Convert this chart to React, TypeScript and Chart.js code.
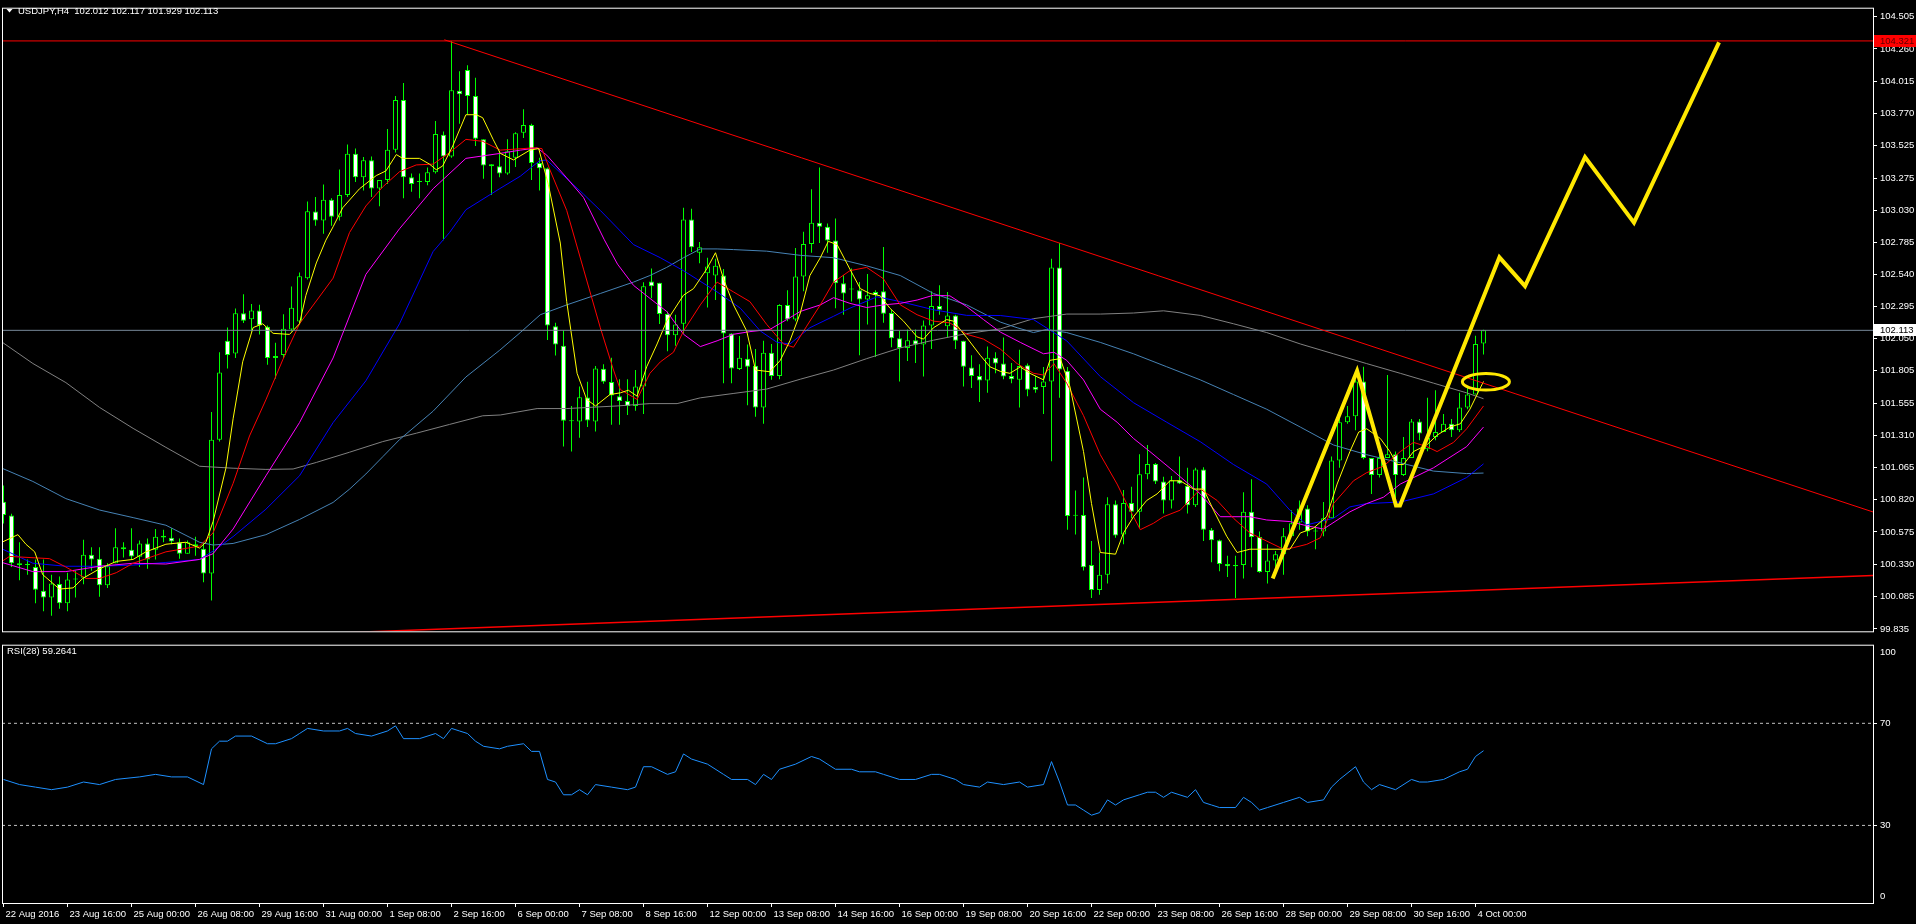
import React, { useEffect, useRef } from 'react';
import { Chart, registerables } from 'chart.js';

Chart.register(...registerables);

const FONT = "'Liberation Sans', Arial, sans-serif";
const FSIZE = 9.5;

// ---------- candle data (H4 bars, index 0 = first visible bar) ----------
const opens = [100.806,100.70,100.336,100.322,100.307,100.127,100.075,100.177,100.031,100.211,100.226,100.40,100.371,100.168,100.336,100.458,100.438,100.385,100.487,100.438,100.545,100.53,100.496,100.409,100.481,100.446,100.258,101.279,102.033,101.937,102.244,102.198,102.265,102.14,101.902,101.925,102.12,102.18,102.511,103.02,102.95,103.11,102.98,103.145,103.46,103.28,103.41,103.195,103.26,103.49,103.87,103.28,103.245,103.245,103.32,103.605,103.44,103.94,104.10,103.90,103.57,103.38,103.365,103.31,103.43,103.62,103.68,103.39,103.35,102.145,101.996,101.42,101.417,101.60,101.417,101.82,101.718,101.61,101.574,101.536,101.685,102.486,102.476,102.237,102.076,102.163,102.958,102.705,102.548,102.531,102.531,102.088,101.817,101.897,101.842,101.524,101.941,101.765,102.307,102.195,102.523,102.772,102.933,102.903,102.799,102.473,102.424,102.419,102.349,102.406,102.411,102.245,102.053,101.979,102.038,102.004,102.15,102.299,102.145,102.227,102.033,101.83,101.765,101.73,101.904,101.859,101.765,101.735,101.847,101.68,101.68,101.723,102.593,101.805,100.698,100.704,100.323,100.132,100.249,100.786,100.555,100.796,100.728,101.014,101.094,100.96,100.815,100.97,100.927,100.778,101.052,100.592,100.512,100.331,100.313,100.323,100.728,100.537,100.269,100.356,100.405,100.542,100.646,100.753,100.579,100.579,100.679,101.119,101.412,101.457,101.723,101.139,101.01,101.139,101.168,101.01,101.139,101.417,101.206,101.30,101.337,101.40,101.35,101.524,101.623,102.012];
const highs = [100.93,100.713,100.496,100.365,100.365,100.365,100.249,100.235,100.264,100.278,100.516,100.458,100.458,100.336,100.603,100.496,100.603,100.51,100.525,100.597,100.591,100.603,100.525,100.51,100.539,100.496,101.49,101.946,102.134,102.279,102.389,102.314,102.308,102.149,102.018,102.236,102.447,102.555,103.095,103.13,103.225,103.12,103.34,103.53,103.50,103.435,103.44,103.26,103.65,103.90,104.00,103.31,103.31,103.355,103.71,103.63,104.321,104.09,104.135,104.04,103.57,103.38,103.48,103.57,103.625,103.80,103.69,103.43,103.355,102.17,102.113,101.536,101.685,101.72,101.84,101.855,101.904,101.74,101.74,101.81,102.48,102.585,102.476,102.257,102.232,103.048,103.04,102.787,102.667,102.66,102.58,102.09,102.07,102.004,101.971,102.033,102.009,102.312,102.419,102.742,102.866,103.19,103.356,102.928,102.966,102.536,102.585,102.481,102.543,102.419,102.749,102.27,102.108,102.12,102.12,102.188,102.411,102.456,102.406,102.232,102.033,101.922,101.854,101.989,101.946,102.058,101.864,101.964,101.859,101.765,101.834,102.66,102.779,101.834,100.89,100.99,100.505,100.418,100.84,100.815,100.895,100.92,101.168,101.238,101.10,100.995,101.002,101.151,101.064,101.064,101.069,100.604,100.517,100.393,100.393,100.878,100.977,100.579,100.48,100.43,100.604,100.741,100.815,100.778,100.617,100.803,101.151,101.45,101.536,101.735,101.835,101.139,101.201,101.772,101.188,101.30,101.437,101.437,101.598,101.656,101.474,101.437,101.636,101.673,102.071,102.117];
const lows = [100.64,100.307,100.206,100.249,100.031,99.97,99.936,99.988,99.97,100.075,100.176,100.278,100.081,100.148,100.336,100.38,100.365,100.307,100.293,100.365,100.496,100.481,100.371,100.409,100.394,100.191,100.052,101.264,101.821,101.902,102.169,102.105,102.082,101.85,101.743,101.902,102.105,102.169,102.50,102.91,102.85,102.91,102.95,103.13,103.245,103.18,103.13,103.06,103.23,103.47,103.12,103.17,103.12,103.22,103.31,102.80,103.43,103.69,103.76,103.52,103.27,103.145,103.28,103.30,103.36,103.58,103.26,103.18,102.04,101.92,101.226,101.188,101.293,101.375,101.342,101.705,101.392,101.392,101.467,101.50,101.474,102.357,102.162,101.954,101.996,102.088,102.71,102.625,102.287,102.344,101.71,101.71,101.81,101.541,101.454,101.40,101.735,101.74,102.183,102.183,102.411,102.705,102.779,102.705,102.282,102.232,102.332,101.922,102.158,101.909,102.17,101.984,101.723,101.879,101.864,101.76,101.971,102.232,102.058,101.971,101.685,101.673,101.566,101.636,101.785,101.74,101.71,101.524,101.61,101.636,101.474,101.114,101.598,100.592,100.555,100.281,100.07,100.095,100.182,100.53,100.48,100.679,100.604,100.977,100.94,100.716,100.753,100.94,100.716,100.766,100.505,100.343,100.274,100.231,100.07,100.219,100.306,100.264,100.182,100.256,100.249,100.542,100.592,100.542,100.443,100.542,100.679,101.064,101.40,101.35,101.13,100.865,100.99,101.139,100.778,101.002,101.139,101.275,101.19,101.275,101.337,101.30,101.337,101.511,101.623,101.929];
const closes = [100.704,100.336,100.322,100.325,100.133,100.075,100.182,100.031,100.211,100.22,100.40,100.365,100.168,100.313,100.458,100.443,100.388,100.487,100.365,100.539,100.533,100.501,100.409,100.496,100.467,100.258,101.279,101.792,101.925,102.244,102.186,102.265,102.149,101.902,101.917,102.125,102.285,102.526,103.021,102.95,103.11,102.98,103.145,103.46,103.28,103.41,103.195,103.26,103.49,103.87,103.28,103.23,103.245,103.32,103.61,103.44,103.945,103.915,103.90,103.575,103.37,103.365,103.31,103.48,103.617,103.68,103.39,103.35,102.15,102.004,101.424,101.42,101.603,101.425,101.822,101.72,101.616,101.574,101.536,101.685,102.449,102.449,102.237,102.076,102.158,102.958,102.747,102.747,102.60,102.605,102.088,101.822,101.904,101.835,101.524,101.941,101.765,102.307,102.195,102.523,102.772,102.933,102.903,102.799,102.473,102.394,102.424,102.349,102.381,102.381,102.24,102.053,101.979,102.038,102.004,102.15,102.299,102.27,102.227,102.033,101.835,101.765,101.73,101.904,101.86,101.76,101.74,101.84,101.66,101.66,101.723,102.593,101.815,100.696,100.698,100.306,100.132,100.249,100.786,100.547,100.796,100.728,101.014,101.094,100.96,100.815,100.97,100.945,100.778,101.052,100.592,100.512,100.331,100.313,100.323,100.728,100.537,100.269,100.356,100.405,100.542,100.641,100.753,100.579,100.585,100.679,101.119,101.412,101.457,101.723,101.139,101.01,101.139,101.168,101.01,101.139,101.417,101.325,101.293,101.337,101.40,101.35,101.524,101.623,102.009,102.113];

// ---------- moving averages, read as [bar, price] ----------
const maYellow = [[-0.2,100.496],[1.8,100.554],[2.8,100.481],[3.9,100.423],[4.9,100.249],[7,100.139],[8.7,100.148],[9.9,100.22],[12,100.293],[14.1,100.35],[16.2,100.365],[17.8,100.423],[20.3,100.481],[22.8,100.496],[24.5,100.452],[25.3,100.496],[26.2,100.655],[27.8,101.061],[28.7,101.438],[29.9,101.873],[31.2,102.134],[32.4,102.163],[33.7,102.09],[35.75,102.082],[37,102.163],[37.8,102.38],[39.1,102.627],[40.3,102.801],[41.2,102.903],[42.4,103.048],[44.5,103.193],[46.6,103.294],[47.8,103.329],[49.1,103.454],[49.9,103.425],[52,103.425],[53.25,103.381],[54.1,103.338],[54.9,103.367],[56.2,103.526],[57.8,103.758],[59.1,103.758],[59.9,103.735],[61.2,103.57],[62.1,103.463],[63.75,103.413],[65.8,103.488],[66.9,103.5],[68.1,103.227],[69.6,102.779],[70.4,102.332],[71.7,101.785],[72.9,101.586],[74,101.536],[75.8,101.623],[77.1,101.636],[78.1,101.656],[79.2,101.611],[80.4,101.835],[81.7,102.009],[82.9,102.183],[85,102.381],[86.25,102.431],[87.9,102.58],[89,102.705],[90,102.506],[91.25,102.307],[92.9,102.108],[94,101.81],[95.8,101.797],[97.1,101.884],[98.3,102.033],[99.6,102.245],[100.8,102.531],[102.1,102.667],[103.1,102.792],[104.2,102.767],[105.8,102.58],[107.1,102.431],[108.3,102.394],[109.6,102.376],[110.8,102.282],[112.5,102.183],[114.2,102.063],[115,102.046],[116.25,102.133],[117.9,102.195],[118.75,102.183],[120.4,102.058],[122.1,101.922],[123.3,101.835],[124.6,101.8],[125.8,101.785],[127.1,101.834],[128.3,101.785],[130,101.735],[130.8,101.884],[132.1,101.897],[133.3,101.685],[135,101.188],[136,100.791],[137.1,100.418],[139,100.405],[140,100.567],[141.25,100.691],[142.9,100.815],[144.2,100.865],[145.8,100.965],[147.1,100.965],[148.75,100.902],[150,100.902],[151.25,100.741],[152.9,100.542],[154.2,100.418],[155.8,100.443],[160.8,100.443],[162.1,100.567],[163.75,100.604],[165.4,100.691],[166.7,100.94],[168.3,101.188],[169.4,101.337],[170.4,101.362],[172.1,101.288],[173.3,101.188],[174.2,101.089],[175,101.089],[176.25,101.188],[177.9,101.238],[179.2,101.313],[180.8,101.375],[182.1,101.4],[183.3,101.511],[185,101.723]];
const maRed = [[-0.2,100.35],[0.75,100.388],[5.75,100.371],[7.8,100.307],[10.3,100.22],[12,100.22],[14.1,100.264],[16.2,100.336],[20.3,100.423],[24.5,100.467],[26.2,100.568],[28.7,100.945],[30.75,101.307],[32.8,101.583],[34.9,101.887],[37,102.163],[39.1,102.337],[41.2,102.511],[43.25,102.859],[45.3,103.062],[47.4,103.207],[49.5,103.323],[51.6,103.375],[53.7,103.381],[55.75,103.468],[57.8,103.57],[59.9,103.555],[62.1,103.488],[66.25,103.505],[67.3,103.5],[68.3,103.338],[70.4,103.028],[72.5,102.58],[74.6,102.133],[76.25,101.81],[77.1,101.661],[79.2,101.586],[80.8,101.785],[82.1,101.872],[83.75,101.946],[85,102.108],[87.1,102.307],[89.2,102.481],[91.25,102.406],[93.3,102.332],[95.4,102.158],[97.5,102.009],[98.75,101.984],[100.4,102.145],[102.1,102.307],[103.75,102.481],[105.8,102.568],[107.9,102.593],[110,102.506],[112.1,102.307],[114.2,102.232],[116.25,102.183],[118.3,102.17],[120.4,102.083],[122.5,102.046],[124.6,101.97],[126.7,101.859],[128.75,101.785],[130,101.772],[131.3,101.859],[132.9,101.71],[135,101.462],[137.1,101.164],[139.2,100.94],[140.4,100.791],[142.1,100.592],[143.75,100.641],[145,100.691],[147.1,100.741],[149.6,100.902],[151.7,100.815],[153.75,100.679],[155.8,100.567],[157.9,100.505],[160,100.443],[161.25,100.455],[162.9,100.48],[164.6,100.53],[166.25,100.791],[168.75,100.965],[170.4,101.027],[172.5,101.077],[174.6,101.188],[176.25,101.258],[177.9,101.226],[179.2,101.188],[181.25,101.258],[182.9,101.362],[185,101.536]];
const maMagenta = [[-0.2,100.342],[3.67,100.272],[7.8,100.272],[12,100.313],[16.2,100.336],[20.3,100.33],[24.5,100.365],[26.2,100.409],[28.7,100.597],[32.8,101.003],[37,101.409],[41.2,101.902],[45.3,102.54],[49.5,102.888],[53.7,103.193],[57.8,103.425],[62.1,103.463],[64.6,103.488],[66.7,103.505],[67.9,103.45],[70.4,103.276],[72.5,103.127],[75.1,102.804],[76.75,102.618],[78.75,102.456],[80.8,102.357],[82.9,102.257],[85,102.083],[87.1,101.989],[89.2,102.033],[91.25,102.083],[93.3,102.103],[95.8,102.12],[97.9,102.195],[99.6,102.257],[102.1,102.307],[103.75,102.362],[105.8,102.319],[107.9,102.287],[110,102.307],[112.1,102.319],[114.2,102.344],[116.25,102.381],[118.3,102.376],[120.4,102.294],[122.5,102.195],[124.6,102.1],[127.1,102.021],[130,101.934],[131.3,101.946],[132.9,101.884],[135,101.735],[137.1,101.511],[139.2,101.412],[141.25,101.288],[143.3,101.188],[146.25,101.039],[149.6,100.865],[152.1,100.691],[155.8,100.691],[157.9,100.666],[160.8,100.654],[162.9,100.622],[165,100.597],[168.3,100.728],[170.4,100.791],[172.5,100.84],[174.6,100.94],[178.75,101.064],[182.9,101.226],[185,101.375]];
const maBlue = [[-0.2,100.446],[3.67,100.336],[7.8,100.313],[12,100.313],[16.2,100.322],[20.3,100.342],[24.5,100.365],[26.2,100.429],[28.7,100.539],[32.8,100.748],[37,101.003],[41.2,101.409],[45.3,101.728],[49.5,102.163],[53.7,102.714],[55.75,102.859],[57.8,103.033],[62,103.193],[64.6,103.289],[67,103.406],[67.9,103.413],[72.5,103.152],[74.6,103.028],[78.75,102.767],[82.1,102.667],[85,102.568],[89.2,102.406],[92.1,102.282],[94.6,102.108],[96.7,102.021],[98.3,102.009],[100.8,102.133],[103.75,102.22],[105.8,102.282],[109.2,102.369],[112.1,102.332],[116.25,102.27],[120.4,102.227],[124.6,102.226],[128.75,102.195],[132.9,102.033],[137.1,101.76],[141.25,101.561],[145.4,101.412],[149.6,101.263],[153.75,101.089],[157.9,100.94],[160.8,100.741],[162.9,100.629],[166.25,100.679],[168.3,100.766],[170.4,100.791],[174.6,100.803],[178.75,100.865],[182.9,100.99],[185,101.094]];
const maSteel = [[-0.2,101.061],[3.67,100.96],[7.8,100.829],[12,100.742],[16.2,100.684],[20.3,100.626],[24.5,100.496],[26.2,100.475],[28.7,100.487],[32.8,100.554],[37,100.67],[41.2,100.8],[43.25,100.901],[45.3,101.017],[47.4,101.148],[49.5,101.279],[53.7,101.496],[57.8,101.757],[62,101.96],[64.6,102.096],[67.1,102.232],[70.4,102.307],[74.6,102.394],[78.75,102.481],[80.8,102.531],[82.9,102.593],[85,102.667],[87.1,102.734],[89.2,102.734],[91.25,102.729],[95.4,102.717],[99.6,102.685],[103.75,102.667],[107.9,102.605],[112.1,102.531],[116.25,102.394],[120.4,102.307],[124.6,102.176],[126.7,102.133],[128.75,102.096],[130.4,102.12],[132.9,102.096],[137.1,102.021],[141.25,101.934],[145.4,101.835],[149.6,101.735],[153.75,101.623],[157.9,101.511],[162.1,101.375],[166.25,101.238],[170.4,101.164],[174.6,101.102],[178.75,101.039],[182.9,101.02],[185,101.024]];
const maGray = [[-0.2,102.024],[3.67,101.86],[7.8,101.714],[12,101.525],[16.2,101.365],[20.3,101.22],[24.5,101.076],[28.7,101.061],[32.8,101.052],[36.2,101.055],[39.1,101.105],[43.25,101.183],[47.4,101.264],[51.6,101.328],[55.75,101.395],[59.9,101.461],[62.1,101.467],[66.7,101.516],[70.4,101.516],[76.7,101.536],[80.8,101.554],[84.2,101.554],[87.1,101.598],[91.2,101.631],[95.4,101.665],[99.6,101.74],[103.75,101.81],[107.9,101.897],[112.1,101.979],[116.25,102.038],[120.4,102.088],[124.6,102.124],[128.75,102.202],[132.9,102.237],[137.1,102.237],[141.25,102.245],[145,102.262],[149.6,102.227],[153.75,102.163],[157.9,102.096],[162.1,102.009],[166.25,101.934],[170.4,101.859],[174.6,101.785],[178.75,101.71],[182.9,101.636],[185,101.591]];

// ---------- RSI(28), read as [bar, value] ----------
const rsiLine = [[0,48],[2,46],[4,45],[6,44],[8,45],[10,47],[12,46],[14,48],[17,49],[19,50],[21,49],[23,49],[25,46],[26,60],[27,63],[28,63],[29,65],[31,65],[33,62],[34,62],[36,64],[37,66],[38,68],[40,67],[42,67],[43,68],[44,66],[46,65],[48,67],[49,69],[50,64],[52,64],[54,66],[55,64],[56,68],[57,67],[58,66],[59,63],[60,61],[62,60],[63,61],[65,62],[66,59],[67,59],[68,48],[69,47],[70,42],[71,42],[72,44],[73,42],[74,46],[76,45],[78,44],[79,45],[80,53],[81,53],[83,50],[84,51],[85,58],[86,56],[88,54],[90,50],[91,48],[93,48],[94,46],[95,50],[96,48],[97,52],[99,54],[101,57],[102,56],[104,52],[106,52],[107,51],[109,51],[110,50],[112,48],[114,48],[116,50],[117,50],[119,48],[120,46],[122,45],[123,47],[125,46],[127,47],[128,45],[130,46],[131,55],[132,47],[133,38],[134,38],[135,36],[136,34],[137,35],[138,40],[139,38],[140,40],[142,42],[143,43],[144,43],[145,41],[146,43],[148,41],[149,44],[150,39],[151,38],[152,37],[154,37],[155,41],[156,39],[157,36],[158,37],[160,39],[162,41],[163,39],[165,40],[166,45],[167,48],[169,53],[170,47],[171,44],[172,46],[174,44],[176,48],[177,47],[178,47],[180,48],[182,51],[183,52],[184,57],[185,59.26]];

// ---------- drawn objects ----------
const highLevel = 104.321;
const bidLevel = 102.113;
const upperTrend = [[55.1,104.33],[233.7,100.727]];
const lowerTrend = [[40,99.80],[233.7,100.243]];
const projection = [[158.65,100.219],[169.2,101.803],[174.06,100.776],[174.56,100.776],[186.99,102.67],[190.19,102.451],[197.69,103.435],[203.81,102.934],[214.44,104.31]];
const ellipseCenter = [185.3, 101.72];
const ellipseRadius = [2.94, 0.063];

// ---------- axes ----------
const priceTicks = [104.505,104.260,104.015,103.770,103.525,103.275,103.030,102.785,102.540,102.295,102.050,101.805,101.555,101.310,101.065,100.820,100.575,100.330,100.085,99.835];
const rsiTickPos = [97.8, 70, 30, 2.0];
const rsiTickLabels = ['100', '70', '30', '0'];
const timeLabelBars = [0,8,16,24,32,40,48,56,64,72,80,88,96,104,112,120,128,136,144,152,160,168,176,184];
const timeLabels = ['22 Aug 2016','23 Aug 16:00','25 Aug 00:00','26 Aug 08:00','29 Aug 16:00','31 Aug 00:00','1 Sep 08:00','2 Sep 16:00','6 Sep 00:00','7 Sep 08:00','8 Sep 16:00','12 Sep 00:00','13 Sep 08:00','14 Sep 16:00','16 Sep 00:00','19 Sep 08:00','20 Sep 16:00','22 Sep 00:00','23 Sep 08:00','26 Sep 16:00','28 Sep 00:00','29 Sep 08:00','30 Sep 16:00','4 Oct 00:00'];

const X_MIN = -0.1875;
const X_MAX = X_MIN + 1871 / 8;
const P_MIN = 99.8167;
const P_MAX = 104.5669;

const pts = (arr: number[][]) => arr.map(([x, y]) => ({ x, y }));
const lineDs = (arr: number[][], color: string, width = 1, order = 5, extra: any = {}) => ({
  type: 'line',
  data: pts(arr),
  borderColor: color,
  borderWidth: width,
  pointRadius: 0,
  tension: 0,
  fill: false,
  order,
  ...extra,
});

export default function App() {
  const mainRef = useRef<HTMLCanvasElement>(null);
  const rsiRef = useRef<HTMLCanvasElement>(null);

  useEffect(() => {
    document.body.style.margin = '0';
    document.body.style.background = '#000';
    document.body.style.overflow = 'hidden';

    const mainDecor = {
      id: 'mainDecor',
      afterDatasetsDraw(chart: any) {
        const { ctx, chartArea: a, scales } = chart;
        const xs = scales.x, ys = scales.y;
        ctx.save();
        ctx.beginPath();
        ctx.rect(a.left, a.top, a.right - a.left, a.bottom - a.top);
        ctx.clip();
        const cx = xs.getPixelForValue(ellipseCenter[0]);
        const cy = ys.getPixelForValue(ellipseCenter[1]);
        const rx = Math.abs(xs.getPixelForValue(ellipseCenter[0] + ellipseRadius[0]) - cx);
        const ry = Math.abs(ys.getPixelForValue(ellipseCenter[1] + ellipseRadius[1]) - cy);
        ctx.strokeStyle = '#ffe800';
        ctx.lineWidth = 3;
        ctx.beginPath();
        ctx.ellipse(cx, cy, rx, ry, 0, 0, Math.PI * 2);
        ctx.stroke();
        ctx.restore();
      },
      afterDraw(chart: any) {
        const { ctx, chartArea: a, scales } = chart;
        const ys = scales.y;
        ctx.save();
        ctx.strokeStyle = '#ffffff';
        ctx.lineWidth = 1;
        ctx.strokeRect(a.left + 0.5, a.top - 0.5, a.right - a.left, a.bottom - a.top + 1);
        ctx.font = `${FSIZE}px ${FONT}`;
        ctx.textBaseline = 'middle';
        ctx.textAlign = 'left';
        const yr = ys.getPixelForValue(highLevel);
        ctx.fillStyle = '#ff0000';
        ctx.fillRect(a.right + 1, Math.round(yr) - 6, 42, 12);
        ctx.fillStyle = '#5a0000';
        ctx.fillText(highLevel.toFixed(3), a.right + 7, yr + 0.5);
        const yb = ys.getPixelForValue(bidLevel);
        ctx.fillStyle = '#ffffff';
        ctx.fillRect(a.right + 1, Math.round(yb) - 6, 42, 12);
        ctx.fillStyle = '#000000';
        ctx.fillText(bidLevel.toFixed(3), a.right + 7, yb + 0.5);
        ctx.fillStyle = '#ffffff';
        ctx.beginPath();
        ctx.moveTo(6.5, 9);
        ctx.lineTo(12.5, 9);
        ctx.lineTo(9.5, 12.5);
        ctx.closePath();
        ctx.fill();
        ctx.textBaseline = 'alphabetic';
        ctx.fillText('USDJPY,H4  102.012 102.117 101.929 102.113', 18, 14);
        ctx.restore();
      },
    };

    const rsiDecor = {
      id: 'rsiDecor',
      afterDraw(chart: any) {
        const { ctx, chartArea: a } = chart;
        ctx.save();
        ctx.strokeStyle = '#ffffff';
        ctx.lineWidth = 1;
        ctx.strokeRect(a.left + 0.5, a.top + 0.5, a.right - a.left, a.bottom - a.top);
        ctx.font = `${FSIZE}px ${FONT}`;
        ctx.fillStyle = '#ffffff';
        ctx.textBaseline = 'alphabetic';
        ctx.fillText('RSI(28) 59.2641', 7, 18);
        ctx.restore();
      },
    };

    const bodyColors = opens.map((o, i) => (closes[i] >= o ? '#000000' : '#ffffff'));

    const main = new Chart(mainRef.current as HTMLCanvasElement, {
      type: 'bar',
      data: {
        datasets: [
          {
            type: 'bar',
            data: highs.map((h, i) => ({ x: i, y: [lows[i], h] })),
            backgroundColor: '#00ff00',
            borderWidth: 0,
            barThickness: 1,
            grouped: false,
            inflateAmount: 0,
            order: 30,
          } as any,
          {
            type: 'bar',
            data: opens.map((o, i) => ({ x: i, y: [o, closes[i]] })),
            backgroundColor: bodyColors,
            borderColor: '#00ff00',
            borderWidth: 1,
            borderSkipped: false,
            barThickness: 5,
            minBarLength: 1,
            grouped: false,
            inflateAmount: 0,
            order: 29,
          } as any,
          lineDs(maGray, '#808080', 1, 12),
          lineDs(maSteel, '#4682b4', 1, 11),
          lineDs(maBlue, '#0000ff', 1, 10),
          lineDs(maMagenta, '#ff00ff', 1, 9),
          lineDs(maRed, '#ff0000', 1, 8),
          lineDs(maYellow, '#ffff00', 1, 7),
          lineDs([[X_MIN, bidLevel], [X_MAX, bidLevel]], '#778899', 1, 6),
          lineDs([[X_MIN, highLevel], [X_MAX, highLevel]], '#ff0000', 1, 4),
          lineDs(upperTrend, '#ff0000', 1, 4),
          lineDs(lowerTrend, '#ff0000', 1.5, 4),
          lineDs(projection, '#ffe800', 4, 1, { borderJoinStyle: 'miter', borderCapStyle: 'butt' }),
        ] as any,
      },
      options: {
        responsive: false,
        animation: false,
        devicePixelRatio: 1,
        events: [],
        layout: { autoPadding: false, padding: { left: 2, top: 1, right: 0, bottom: 2 } },
        plugins: { legend: { display: false }, tooltip: { enabled: false } },
        scales: {
          x: { type: 'linear', min: X_MIN, max: X_MAX, display: false, offset: false },
          y: {
            type: 'linear',
            position: 'right',
            min: P_MIN,
            max: P_MAX,
            afterFit: (s: any) => { s.width = 43; },
            afterBuildTicks: (s: any) => { s.ticks = priceTicks.map((v) => ({ value: v })); },
            ticks: {
              autoSkip: false,
              color: '#ffffff',
              padding: 3,
              font: { family: FONT, size: FSIZE },
              callback: (v: any) => Number(v).toFixed(3),
            },
            grid: { drawOnChartArea: false, drawTicks: true, tickLength: 4, color: '#ffffff' },
            border: { display: false },
          },
        },
      } as any,
      plugins: [mainDecor],
    });

    const rsi = new Chart(rsiRef.current as HTMLCanvasElement, {
      type: 'line',
      data: {
        datasets: [
          lineDs([[X_MIN, 70], [X_MAX, 70]], '#c0c0c0', 1, 3, { borderDash: [3, 3] }),
          lineDs([[X_MIN, 30], [X_MAX, 30]], '#c0c0c0', 1, 3, { borderDash: [3, 3] }),
          lineDs(rsiLine, '#1e90ff', 1, 1),
        ] as any,
      },
      options: {
        responsive: false,
        animation: false,
        devicePixelRatio: 1,
        events: [],
        layout: { autoPadding: false, padding: { left: 2, top: 4, right: 0, bottom: 0 } },
        plugins: { legend: { display: false }, tooltip: { enabled: false } },
        scales: {
          x: {
            type: 'linear',
            min: X_MIN,
            max: X_MAX,
            offset: false,
            afterFit: (s: any) => { s.height = 21; },
            afterBuildTicks: (s: any) => { s.ticks = timeLabelBars.map((v) => ({ value: v })); },
            ticks: {
              autoSkip: false,
              maxRotation: 0,
              minRotation: 0,
              align: 'start',
              labelOffset: 2,
              padding: 2,
              color: '#ffffff',
              font: { family: FONT, size: FSIZE },
              callback: (_v: any, i: number) => timeLabels[i],
            },
            grid: { drawOnChartArea: false, drawTicks: true, tickLength: 4, color: '#ffffff' },
            border: { display: false },
          },
          y: {
            type: 'linear',
            position: 'right',
            min: -0.4,
            max: 100.8,
            afterFit: (s: any) => { s.width = 43; },
            afterBuildTicks: (s: any) => { s.ticks = rsiTickPos.map((v) => ({ value: v })); },
            ticks: {
              autoSkip: false,
              color: '#ffffff',
              padding: 3,
              font: { family: FONT, size: FSIZE },
              callback: (_v: any, i: number) => rsiTickLabels[i],
            },
            grid: {
              drawOnChartArea: false,
              drawTicks: true,
              tickLength: 4,
              color: (c: any) => (c.tick && (c.tick.value === 70 || c.tick.value === 30) ? '#ffffff' : 'rgba(0,0,0,0)'),
            },
            border: { display: false },
          },
        },
      } as any,
      plugins: [rsiDecor],
    });

    return () => {
      main.destroy();
      rsi.destroy();
    };
  }, []);

  return (
    <div style={{ position: 'relative', width: 1916, height: 924, background: '#000', overflow: 'hidden' }}>
      <canvas ref={mainRef} width={1916} height={640} style={{ position: 'absolute', left: 0, top: 0 }} />
      <canvas ref={rsiRef} width={1916} height={288} style={{ position: 'absolute', left: 0, top: 636 }} />
    </div>
  );
}
